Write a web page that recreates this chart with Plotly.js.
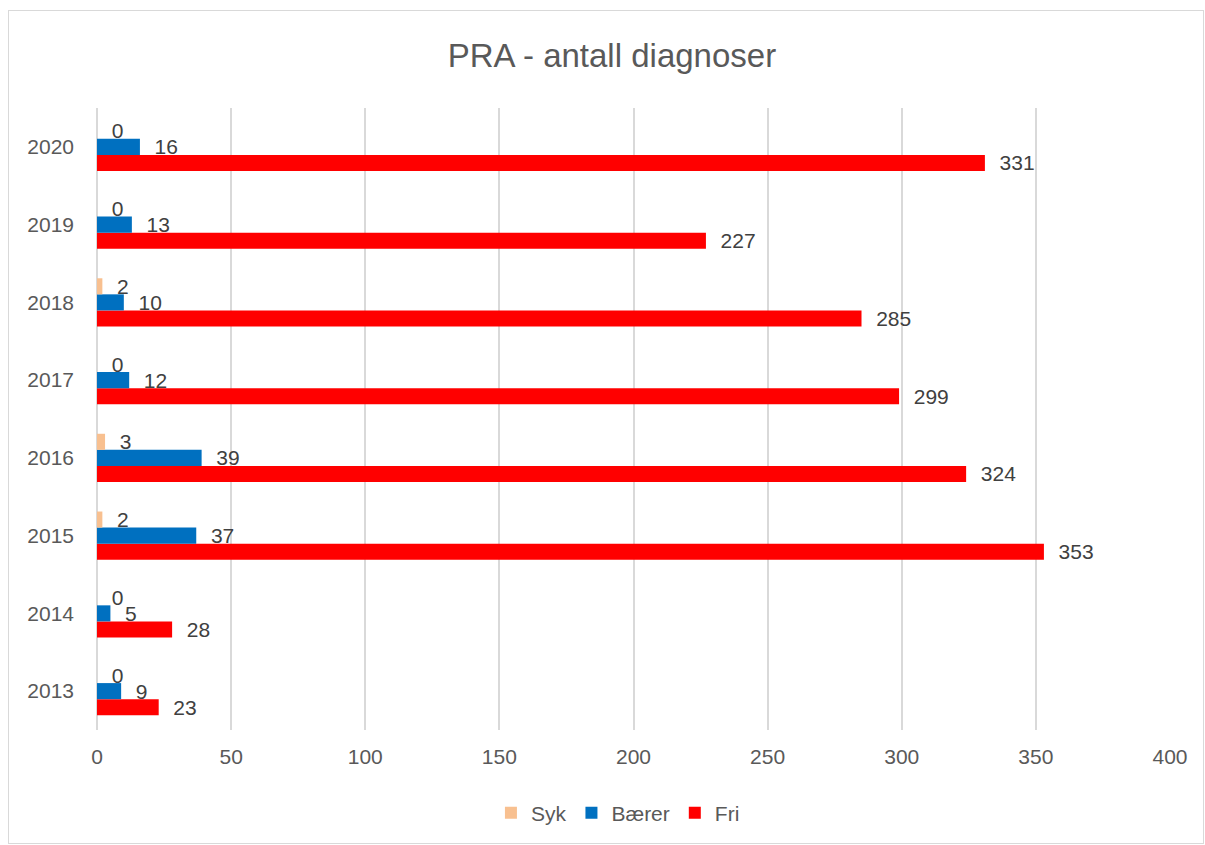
<!DOCTYPE html>
<html>
<head>
<meta charset="utf-8">
<script src="https://cdn.plot.ly/plotly-3.0.1.min.js"></script>
<style>
  html, body { margin: 0; padding: 0; background: #fff; }
  #chart { position: absolute; left: 8px; top: 10px; width: 1194px; height: 832px; border: 1px solid #d9d9d9; }
</style>
</head>
<body>
<div id="chart"></div>
<script>
const years = ['2013', '2014', '2015', '2016', '2017', '2018', '2019', '2020'];
const syk   = [0, 0, 2, 3, 0, 2, 0, 0];
const baerer = [9, 5, 37, 39, 12, 10, 13, 16];
const fri   = [23, 28, 353, 324, 299, 285, 227, 331];
const xTicks = [0, 50, 100, 150, 200, 250, 300, 350, 400];

const FONT = 'Liberation Sans, Arial, sans-serif';
const labelFont = { family: FONT, size: 21, color: '#404040' };

function series(name, vals, color) {
  return {
    type: 'bar', orientation: 'h', name: name,
    y: years, x: vals,
    marker: { color: color, line: { width: 0 } },
    text: vals.map(String),
    texttemplate: '\u00a0\u00a0%{x}',
    textposition: 'outside',
    constraintext: 'none',
    cliponaxis: false,
    textfont: labelFont,
    hoverinfo: 'x+name'
  };
}

const data = [
  series('Fri', fri, '#FF0000'),
  series('Bærer', baerer, '#0070C0'),
  series('Syk', syk, '#F8C090')
];

const layout = {
  width: 1194, height: 832,
  paper_bgcolor: '#fff', plot_bgcolor: '#fff',
  margin: { l: 88, r: 33, t: 97, b: 113 },
  font: { family: FONT, color: '#595959', size: 21 },
  title: { text: 'PRA - antall diagnoser', font: { family: FONT, size: 33, color: '#595959' },
           x: 0.505, xanchor: 'center', y: 0.947, yanchor: 'middle', xref: 'container', yref: 'container' },
  barmode: 'group', bargap: 0.38, bargroupgap: 0,
  xaxis: {
    range: [0, 400], tickvals: xTicks, ticktext: xTicks.map(String),
    showgrid: true, gridcolor: '#d9d9d9', gridwidth: 1.5,
    zeroline: true, zerolinecolor: '#d9d9d9', zerolinewidth: 1.5,
    showline: false, ticks: '', ticklabelstandoff: 12,
    tickfont: { family: FONT, size: 21, color: '#595959' }, fixedrange: true
  },
  yaxis: {
    type: 'category', categoryorder: 'array', categoryarray: years,
    showgrid: false, zeroline: false, showline: false, ticks: '',
    ticklabelstandoff: 22,
    tickfont: { family: FONT, size: 21, color: '#595959' }, fixedrange: true
  },
  legend: {
    orientation: 'h', traceorder: 'reversed',
    xref: 'container', yref: 'container', x: 0.51, xanchor: 'center', y: 0.036, yanchor: 'middle',
    font: { family: FONT, size: 21, color: '#595959' },
    itemclick: false, itemdoubleclick: false
  },
  showlegend: true
};

Plotly.newPlot('chart', data, layout, { displayModeBar: false, staticPlot: false });
</script>
</body>
</html>
